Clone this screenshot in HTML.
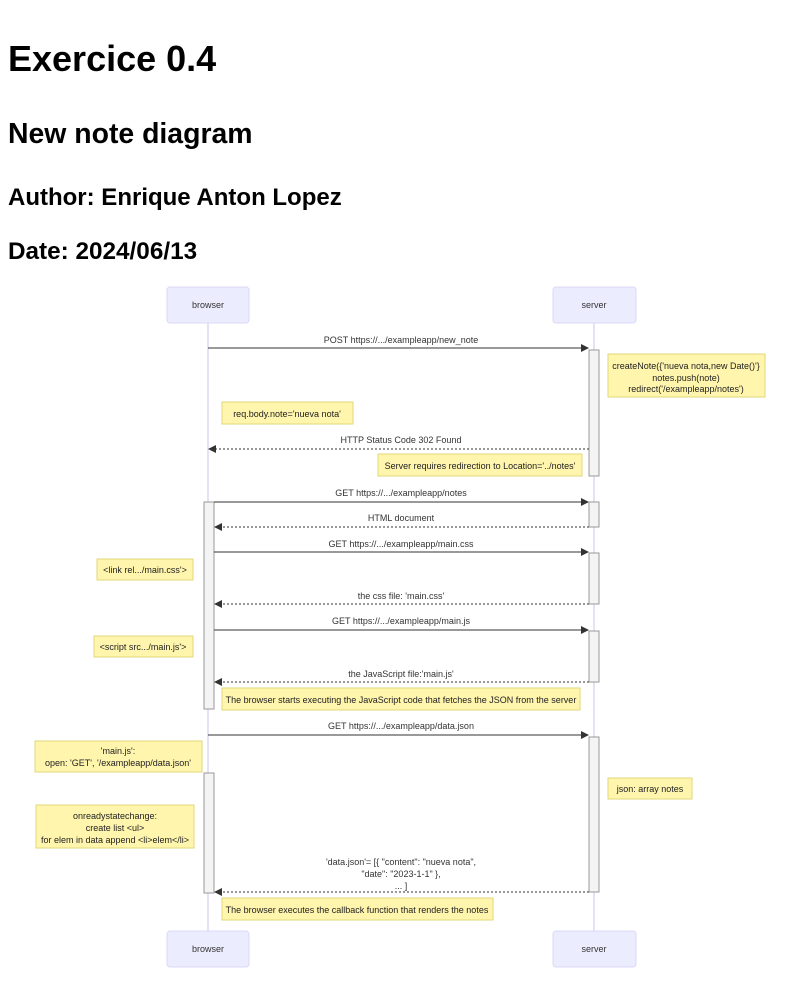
<!DOCTYPE html>
<html><head><meta charset="utf-8"><style>
body{margin:0;background:#fff;width:800px;height:988px;overflow:hidden;font-family:"Liberation Sans",sans-serif;}
h1,h2,h3{position:absolute;left:8px;margin:0;font-weight:bold;color:#000}
</style></head><body>
<h1 style="top:38px;font-size:36px">Exercice 0.4</h1>
<h2 style="top:118px;font-size:28.4px">New note diagram</h2>
<h3 style="top:184px;font-size:24px">Author: Enrique Anton Lopez</h3>
<h3 style="top:238px;font-size:24.3px">Date: 2024/06/13</h3>
<svg width="800" height="988" style="position:absolute;left:0;top:0" font-family="Liberation Sans, sans-serif" font-size="9">
<defs><marker id="a" markerWidth="8" markerHeight="8" refX="7" refY="4" orient="auto"><path d="M0,0L8,4L0,8z" fill="#333"/></marker></defs>
<g stroke="#ccc5ee" stroke-width="1"><line x1="208" y1="323" x2="208" y2="931"/><line x1="594" y1="323" x2="594" y2="931"/></g>
<g fill="#ececff" stroke="#dcd9f5"><rect x="167" y="287" width="82" height="36" rx="3"/><rect x="553" y="287" width="83" height="36" rx="3"/><rect x="167" y="931" width="82" height="36" rx="3"/><rect x="553" y="931" width="83" height="36" rx="3"/></g>
<g fill="#333" text-anchor="middle"><text x="208" y="308">browser</text><text x="594" y="308">server</text><text x="208" y="952">browser</text><text x="594" y="952">server</text></g>
<g fill="#f4f4f4" stroke="#999"><rect x="589" y="350" width="10" height="126"/><rect x="204" y="502" width="10" height="207"/><rect x="589" y="502" width="10" height="25"/><rect x="589" y="553" width="10" height="51"/><rect x="589" y="631" width="10" height="51"/><rect x="589" y="737" width="10" height="155"/><rect x="204" y="773" width="10" height="120"/></g>
<g stroke="#333" stroke-width="1" marker-end="url(#a)">
<line x1="208" y1="348" x2="588" y2="348"/><line x1="214" y1="502" x2="588" y2="502"/><line x1="214" y1="552" x2="588" y2="552"/><line x1="214" y1="630" x2="588" y2="630"/><line x1="208" y1="735" x2="588" y2="735"/>
<g stroke-dasharray="2,2"><line x1="589" y1="449" x2="209" y2="449"/><line x1="589" y1="527" x2="215" y2="527"/><line x1="589" y1="604" x2="215" y2="604"/><line x1="589" y1="682" x2="215" y2="682"/><line x1="589" y1="892" x2="215" y2="892"/></g>
</g>
<g fill="#333" text-anchor="middle">
<text x="401" y="343">POST https://.../exampleapp/new_note</text>
<text x="401" y="443">HTTP Status Code 302 Found</text>
<text x="401" y="496">GET https://.../exampleapp/notes</text>
<text x="401" y="521">HTML document</text>
<text x="401" y="547">GET https://.../exampleapp/main.css</text>
<text x="401" y="599">the css file: 'main.css'</text>
<text x="401" y="624">GET https://.../exampleapp/main.js</text>
<text x="401" y="677">the JavaScript file:'main.js'</text>
<text x="401" y="729">GET https://.../exampleapp/data.json</text>
<text x="401" y="865">'data.json'= [{ "content": "nueva nota",</text>
<text x="401" y="877">"date": "2023-1-1" },</text>
<text x="401" y="889">... ]</text>
</g>
<g fill="#fff5ad" stroke="#e0d77a">
<rect x="608" y="354" width="157" height="43"/><rect x="222" y="402" width="131" height="22"/><rect x="378" y="454" width="204" height="22"/><rect x="97" y="559" width="96" height="21"/><rect x="94" y="636" width="99" height="21"/><rect x="222" y="688" width="358" height="22"/><rect x="35" y="741" width="167" height="31"/><rect x="608" y="778" width="84" height="21"/><rect x="36" y="805" width="158" height="43"/><rect x="222" y="898" width="271" height="22"/>
</g>
<g fill="#222" text-anchor="middle">
<text x="686" y="369">createNote({'nueva nota,new Date()'}</text><text x="686" y="381">notes.push(note)</text><text x="686" y="392">redirect('/exampleapp/notes')</text>
<text x="287" y="417">req.body.note='nueva nota'</text>
<text x="480" y="469">Server requires redirection to Location='../notes'</text>
<text x="145" y="573">&lt;link rel.../main.css'&gt;</text>
<text x="143" y="650">&lt;script src.../main.js'&gt;</text>
<text x="401" y="703">The browser starts executing the JavaScript code that fetches the JSON from the server</text>
<text x="118" y="754">'main.js':</text><text x="118" y="766">open: 'GET', '/exampleapp/data.json'</text>
<text x="650" y="792">json: array notes</text>
<text x="115" y="819">onreadystatechange:</text><text x="115" y="831">create list &lt;ul&gt;</text><text x="115" y="843">for elem in data append &lt;li&gt;elem&lt;/li&gt;</text>
<text x="357" y="913">The browser executes the callback function that renders the notes</text>
</g>
</svg>
</body></html>
